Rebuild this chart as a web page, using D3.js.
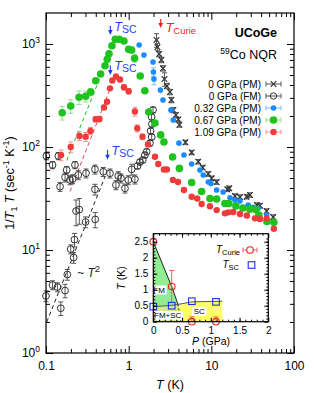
<!DOCTYPE html>
<html>
<head>
<meta charset="utf-8">
<script src="https://cdn.jsdelivr.net/npm/d3@7"></script>
<style>
body{margin:0;background:#fff}
svg{display:block;font-family:"Liberation Sans",Arial,Helvetica,sans-serif}
</style>
</head>
<body>
<div id="chart"></div>
<script>
// each point: [T (K), 1/T1T (sec^-1 K^-1), relative error (0 = no bar)]
const pm0 = [[2.17,1094,0.15],[2.23,935,0.08],[2.34,800,0.06],[2.49,700,0.06],[2.60,581,0.06],[2.71,457,0.15],
  [2.90,391,0.06],[3.16,342,0.06],[3.29,286,0.06],[3.48,228,0.06],[3.73,205,0.05],[3.98,185,0.05],[4.11,164,0.05],
  [4.86,111,0.05],[5.78,88.5,0.05],[6.95,72,0.05],[7.85,63.2,0.05],[9.18,54.7,0.05],[10.1,49.7,0.05],[11.6,45.7,0.05],
  [15.6,38.8,0.05],[16.5,39.7,0.05],[19.3,33.4,0.05],[22.2,32.7,0.05],[26.7,32.9,0.05],[29.3,34.2,0.05],[35.6,27.3,0.05],
  [38.7,26.9,0.05],[46.6,23.9,0.05],[56.0,20.9,0.05]];
const fm0 = [[0.1,3.58,0.12],[0.120,4.57,0.1],[0.138,4.37,0.1],[0.151,2.72,0.15],[0.170,4.04,0.15],[0.181,5.78,0.12],
  [0.199,10.2,0.1],[0.216,8.45,0.12],[0.221,12.6,0.15],[0.231,23.9,0.28],[0.253,24.7,0.28],[0.301,18.7,0.12],
  [0.394,19.8,0.17],[0.391,38.8,0.12],
  [0.101,81.8,0.08],[0.120,66.9,0.08],[0.141,81.8,0.08],[0.148,41.2,0.1],[0.170,50.8,0.1],[0.178,59.8,0.08],
  [0.195,47.8,0.1],[0.210,48.9,0.1],[0.224,66.9,0.08],[0.246,53.5,0.1],[0.305,55.6,0.1],[0.391,60.7,0.1],
  [0.493,57.5,0.1],[0.594,55.6,0.1],[0.702,42.8,0.1],[0.748,52.3,0.1],[0.807,49.7,0.1],[0.902,39.7,0.1],
  [0.989,47.8,0.1],[1.087,60.7,0.12],[1.19,48.6,0.1],[1.28,65.4,0.06],[1.37,71.5,0.06],[1.48,74.8,0.06],
  [1.57,83.6,0.06],[1.65,90.0,0.06],[1.81,109,0.06],[1.90,125,0.06],[1.84,143,0.06],[1.91,167,0.06],
  [1.89,196,0.06],[1.97,229,0.06]];
const p032 = [[1.34,978,0],[1.53,782,0],[1.97,668,0],[1.99,535,0.1],[2.02,457,0.12],[2.42,357,0],[2.60,286,0],
  [3.25,228,0],[3.46,183,0],[4.06,109,0],[4.66,83.6,0],[5.78,68.4,0],[7.28,59.8,0],[7.98,53.5,0],[9.18,45.7,0],
  [9.89,44.2,0],[11.6,38.3,0],[13.9,36.6,0],[16.8,32.2,0],[19.3,30.6,0],[22.2,29.9,0],[27.9,27.3,0],[32.1,26.0,0],
  [36.9,25.4,0],[46.6,21.9,0],[56.0,18.7,0]];
const p067 = [[0.157,215,0.15],[0.199,250,0.15],[0.251,304,0.15],[0.302,311,0.12],[0.347,342,0.08],[0.399,440,0],
  [0.458,511,0],[0.517,615,0],[0.551,710,0],[0.578,805,0],[0.628,962,0],[0.689,1111,0],[0.769,1111,0],[0.877,1069,0],
  [1.0,887,0.06],[1.087,875,0.06],[1.18,726,0.08],[1.38,489,0],[1.57,352,0],[1.75,219,0],[2.08,171,0],[2.44,131,0],
  [2.67,112,0],[3.40,80,0],[4.11,62,0],[5.78,45.2,0],[7.63,37.0,0],[9.62,31.6,0],[11.6,31.3,0],[14.6,28.3,0],
  [16.3,28.3,0],[19.8,26.7,0],[24.1,25.6,0],[29.3,24.8,0],[34.6,24.7,0],[37.6,21.9,0],[47.0,18.9,0],[57.1,18.6,0]];
const p109 = [[0.152,83.6,0.12],[0.199,100,0.12],[0.254,128,0.1],[0.302,126,0.1],[0.345,143,0.08],[0.399,186,0.06],
  [0.443,187,0.06],[0.503,242,0],[0.547,275,0],[0.594,371,0],[0.634,442,0],[0.702,483,0],[0.785,452,0.05],
  [0.877,380,0.06],[1.0,348,0.06],[1.19,221,0.1],[1.27,152,0.08],[1.47,126,0.06],[1.71,106,0],[2.08,80.5,0],
  [2.28,68.4,0],[2.67,60.5,0],[2.90,60.5,0],[3.43,47.8,0],[3.95,45.7,0],[4.66,38.3,0],[5.78,32.9,0],[6.75,31.6,0],
  [7.63,28.0,0],[9.62,26.6,0],[11.6,24.4,0],[14.6,22.7,0],[16.0,23.2,0],[18.4,23.4,0],[22.2,22.4,0],[26.9,21.6,0],
  [33.7,20.3,0],[38.7,20.0,0],[46.6,20.3,0],[57.1,16.1,0]];

// ~T^2 guide lines (end points)
const fitBlack = [[0.102,2.0],[0.52,52]];
const fitRed = [[0.195,37],[0.6,370]];
const fitGreen = [[0.178,74],[0.45,470]];

// arrows: [T, tip value, tail value]
const tscArrows = [[0.6,1223,1500],[0.6,500,620],[0.555,75,94]];
const curieArrow = [2.44,1430,1750];

const xTicks = [0.1,1,10,100];
const yTicks = [1,10,100,1000];
const legendNames = ["0 GPa (PM)","0 GPa (FM)","0.32 GPa (PM)","0.67 GPa (PM)","1.09 GPa (PM)"];

// inset phase diagram: P (GPa), T (K)
const tCurie = [[0,2.5,0],[0.32,1.1,0.5],[0.67,0,0.15],[1.09,0,0.15]];
const tSC = [[0,0.47],[0.32,0.5],[0.67,0.64],[1.09,0.62]];
const fmLine = [[0,2.5],[0.32,1.1],[0.43,0.54]];
const fmDash = [[0.43,0.54],[0.48,0]];
const scLine = [[0,0.47],[0.32,0.51],[0.43,0.54],[0.67,0.62],[1.2,0.64]];
const insetXTicks = [0,0.5,1,1.5,2];
const insetYTicks = [0,0.5,1,1.5,2,2.5];

const W = 314, H = 393;
const svg = d3.select("#chart").append("svg").attr("width", W).attr("height", H);

const x = d3.scaleLog().domain([0.1,100]).range([46,294]);
const y = d3.scaleLog().domain([1,2000]).range([353,13]);

function minorLog(lo, hi){
  let out=[];
  for(let k=Math.floor(Math.log10(lo)); k<=Math.ceil(Math.log10(hi)); k++)
    for(let m=2;m<10;m++){ let v=m*Math.pow(10,k); if(v>lo && v<hi) out.push(v); }
  return out;
}

function errBars(data, color){
  let g = svg.append("g").attr("stroke", color).attr("stroke-width", 1);
  data.filter(d=>d[2]>0).forEach(d=>{
    let px=x(d[0]), y1=y(d[1]*(1-d[2])), y2=y(d[1]*(1+d[2]));
    g.append("line").attr("x1",px).attr("x2",px).attr("y1",y1).attr("y2",y2);
    g.append("line").attr("x1",px-2.5).attr("x2",px+2.5).attr("y1",y1).attr("y2",y1);
    g.append("line").attr("x1",px-2.5).attr("x2",px+2.5).attr("y1",y2).attr("y2",y2);
  });
}

// dashed guides
const line = d3.line().x(d=>x(d[0])).y(d=>y(d[1]));
[[fitGreen,"#22bb22"],[fitRed,"#ee4444"],[fitBlack,"#222"]].forEach(f=>{
  svg.append("path").attr("d", line(f[0])).attr("fill","none").attr("stroke",f[1])
    .attr("stroke-width",1).attr("stroke-dasharray","4,3");
});

// 0 GPa PM: crosses
errBars(pm0, "#555");
svg.append("g").selectAll("path").data(pm0).enter().append("path")
  .attr("d","M-2.8,-2.8L2.8,2.8M-2.8,2.8L2.8,-2.8")
  .attr("transform",d=>`translate(${x(d[0])},${y(d[1])})`)
  .attr("stroke","#333").attr("stroke-width",1.2).attr("fill","none");

// 0 GPa FM: open circles
errBars(fm0, "#555");
svg.append("g").selectAll("circle").data(fm0).enter().append("circle")
  .attr("cx",d=>x(d[0])).attr("cy",d=>y(d[1])).attr("r",3.4)
  .attr("fill","none").attr("stroke","#333").attr("stroke-width",1);

function filled(data, color, barColor, r){
  errBars(data, barColor);
  svg.append("g").selectAll("circle").data(data).enter().append("circle")
    .attr("cx",d=>x(d[0])).attr("cy",d=>y(d[1])).attr("r",r).attr("fill",color);
}
filled(p032, "#1a8cff", "#7fbfff", 2.8);
filled(p067, "#1ec31e", "#8ee08e", 3.8);
filled(p109, "#ee3b3b", "#f59090", 3.2);

// arrows
function arrow(T, tip, tail, color){
  let px=x(T), yt=y(tip), ys=y(tail);
  svg.append("line").attr("x1",px).attr("x2",px).attr("y1",ys).attr("y2",yt-4)
    .attr("stroke",color).attr("stroke-width",1.2);
  svg.append("path").attr("d",`M${px-2.3},${yt-5}L${px+2.3},${yt-5}L${px},${yt}Z`).attr("fill",color);
}
tscArrows.forEach(a=>{
  arrow(a[0],a[1],a[2],"#1f3fff");
  let t = svg.append("text").attr("x",x(a[0])+4).attr("y",y(a[2])+5).attr("fill","#1f3fff").attr("font-size","12.5px");
  t.append("tspan").attr("font-style","italic").text("T");
  t.append("tspan").attr("font-size","10.5px").attr("dy","2").text("SC");
});
arrow(curieArrow[0],curieArrow[1],curieArrow[2],"#ee2222");
{
  let t = svg.append("text").attr("x",x(curieArrow[0])+5).attr("y",y(curieArrow[2])+13).attr("fill","#ee2222").attr("font-size","12.5px");
  t.append("tspan").attr("font-style","italic").text("T");
  t.append("tspan").attr("font-size","9.5px").attr("dy","2").text("Curie");
}

// ~T^2
{
  let t = svg.append("text").attr("x",x(0.238)).attr("y",y(5.5)).attr("font-size","12px").attr("fill","#222");
  t.append("tspan").text("~ ");
  t.append("tspan").attr("font-style","italic").text("T");
  t.append("tspan").attr("font-size","9.5px").attr("dy","-5").text("2");
}

// main axes
function strip(g){ g.select(".domain").remove(); g.attr("font-family",null); }
svg.append("g").attr("transform","translate(0,353)")
  .call(d3.axisBottom(x).tickValues(xTicks).tickSize(-7).tickPadding(8).tickFormat(d3.format("~g")))
  .attr("font-size","12px").call(strip);
svg.append("g").attr("transform","translate(0,353)")
  .call(d3.axisBottom(x).tickValues(minorLog(0.1,100)).tickSize(-4).tickFormat("")).call(strip);
svg.append("g").attr("transform","translate(0,13)")
  .call(d3.axisTop(x).tickValues(xTicks).tickSize(-7).tickFormat("")).call(strip);
svg.append("g").attr("transform","translate(0,13)")
  .call(d3.axisTop(x).tickValues(minorLog(0.1,100)).tickSize(-4).tickFormat("")).call(strip);

const gyl = svg.append("g").attr("transform","translate(46,0)")
  .call(d3.axisLeft(y).tickValues(yTicks).tickSize(-7).tickPadding(6))
  .attr("font-size","12px").call(strip);
gyl.selectAll(".tick text").text(null).each(function(d){
  let t=d3.select(this);
  t.append("tspan").text("10");
  t.append("tspan").attr("font-size","8.5px").attr("dy","-5").text(Math.round(Math.log10(d)));
});
svg.append("g").attr("transform","translate(46,0)")
  .call(d3.axisLeft(y).tickValues(minorLog(1,2000)).tickSize(-4).tickFormat("")).call(strip);
svg.append("g").attr("transform","translate(294,0)")
  .call(d3.axisRight(y).tickValues(yTicks).tickSize(-7).tickFormat("")).call(strip);
svg.append("g").attr("transform","translate(294,0)")
  .call(d3.axisRight(y).tickValues(minorLog(1,2000)).tickSize(-4).tickFormat("")).call(strip);

svg.append("rect").attr("x",46).attr("y",13).attr("width",248).attr("height",340)
  .attr("fill","none").attr("stroke","#000").attr("stroke-width",1.2);

// axis titles
{
  let t = svg.append("text").attr("x",170).attr("y",389).attr("text-anchor","middle").attr("font-size","12.5px");
  t.append("tspan").attr("font-style","italic").text("T");
  t.append("tspan").text(" (K)");
  let yl = svg.append("text").attr("transform","translate(14,183) rotate(-90)").attr("text-anchor","middle").attr("font-size","12.5px");
  yl.append("tspan").text("1/");
  yl.append("tspan").attr("font-style","italic").text("T");
  yl.append("tspan").attr("font-size","9px").attr("dy","3").text("1");
  yl.append("tspan").attr("font-style","italic").attr("dy","-3").text(" T");
  yl.append("tspan").text(" (sec");
  yl.append("tspan").attr("font-size","9px").attr("dy","-5").text("-1");
  yl.append("tspan").attr("dy","5").text(" K");
  yl.append("tspan").attr("font-size","9px").attr("dy","-5").text("-1");
  yl.append("tspan").attr("dy","5").text(")");
}

// titles
svg.append("text").attr("x",277).attr("y",37).attr("text-anchor","end").attr("font-size","12.5px")
  .attr("font-weight","bold").text("UCoGe");
{
  let t = svg.append("text").attr("x",277).attr("y",59).attr("text-anchor","end").attr("font-size","12.5px");
  t.append("tspan").attr("font-size","8.5px").attr("dy","-5").text("59");
  t.append("tspan").attr("dy","5").text("Co NQR");
}

// legend
const legendColors = [["#333","#555"],["#333","#555"],["#1a8cff","#7fbfff"],["#1ec31e","#8ee08e"],["#ee3b3b","#f59090"]];
legendNames.forEach((name,i)=>{
  let ly = 84 + i*12;
  svg.append("text").attr("x",261).attr("y",ly).attr("dy","0.35em").attr("text-anchor","end")
    .attr("font-size","10px").text(name);
  let g = svg.append("g").attr("stroke",legendColors[i][1]).attr("stroke-width",1);
  g.append("line").attr("x1",266).attr("x2",281).attr("y1",ly).attr("y2",ly);
  g.append("line").attr("x1",266).attr("x2",266).attr("y1",ly-2.5).attr("y2",ly+2.5);
  g.append("line").attr("x1",281).attr("x2",281).attr("y1",ly-2.5).attr("y2",ly+2.5);
  if(i==0) svg.append("path").attr("d",`M${273.5-2.8},${ly-2.8}L${273.5+2.8},${ly+2.8}M${273.5-2.8},${ly+2.8}L${273.5+2.8},${ly-2.8}`)
    .attr("stroke","#333").attr("stroke-width",1.2);
  else if(i==1) svg.append("circle").attr("cx",273.5).attr("cy",ly).attr("r",3.2).attr("fill","none").attr("stroke","#333");
  else svg.append("circle").attr("cx",273.5).attr("cy",ly).attr("r",[0,0,2.8,3.8,3.2][i]).attr("fill",legendColors[i][0]);
});

// ---------- inset ----------
const ix = d3.scaleLinear().domain([0,2]).range([153.3,268.3]);
const iy = d3.scaleLinear().domain([0,2.75]).range([321.7,233.7]);
const ins = svg.append("g");
ins.append("rect").attr("x",153.3).attr("y",233.7).attr("width",115).attr("height",88).attr("fill","#fff");
svg.append("clipPath").attr("id","iclip").append("rect").attr("x",153.3).attr("y",233.7).attr("width",115).attr("height",88);
const iline = d3.line().x(d=>ix(d[0])).y(d=>iy(d[1]));
const scEnd = scLine.findIndex(d=>d[0]===fmLine[fmLine.length-1][0]);
const fmPoly = fmLine.concat(scLine.slice(0,scEnd).reverse());
const fmscPoly = [[0,0],fmDash[1]].concat([fmDash[0]]).concat(scLine.slice(0,scEnd).reverse());
const scPoly = [fmDash[1],[scLine[scLine.length-1][0],0]].concat(scLine.slice(scEnd).reverse()).concat([fmDash[1]]);
ins.append("path").attr("d",iline(fmPoly)+"Z").attr("fill","#90ee90");
ins.append("path").attr("d",iline(fmscPoly)+"Z").attr("fill","#d2ea86");
ins.append("path").attr("d",iline(scPoly)+"Z").attr("fill","#ffff66");
ins.append("path").attr("d",iline(fmLine)).attr("fill","none").attr("stroke","#222").attr("stroke-width",1);
ins.append("path").attr("d",iline(fmDash)).attr("fill","none").attr("stroke","#222").attr("stroke-width",1).attr("stroke-dasharray","2,2");
ins.append("path").attr("d",iline(scLine)).attr("fill","none").attr("stroke","#555").attr("stroke-width",1);

function labelBox(txt, P, T){
  let t = ins.append("text").attr("x",ix(P)).attr("y",iy(T)).attr("dy","0.35em").attr("text-anchor","middle")
    .attr("font-size","8px").text(txt);
  let b = t.node().getBBox();
  ins.insert("rect","text:last-child").attr("x",b.x-1.5).attr("y",b.y).attr("width",b.width+3).attr("height",b.height).attr("fill","#fff");
  t.raise();
}
labelBox("FM",0.1,1.0);
labelBox("FM+SC",0.25,0.2);
labelBox("SC",0.8,0.33);

// Tcurie points
const ig = ins.append("g").attr("clip-path","url(#iclip)");
tCurie.forEach(d=>{
  if(d[2]>0){
    let px=ix(d[0]), y1=iy(d[1]-d[2]), y2=iy(d[1]+d[2]);
    ig.append("line").attr("x1",px).attr("x2",px).attr("y1",y1).attr("y2",y2).attr("stroke","#f06060");
    [y1,y2].forEach(yy=>ig.append("line").attr("x1",px-2.5).attr("x2",px+2.5).attr("y1",yy).attr("y2",yy).attr("stroke","#f06060"));
  }
});
ins.selectAll("circle.tc").data(tCurie).enter().append("circle").attr("class","tc")
  .attr("cx",d=>ix(d[0])).attr("cy",d=>iy(d[1])).attr("r",3.3).attr("fill","none").attr("stroke","#ee2222").attr("stroke-width",1.1);
ins.selectAll("rect.sc").data(tSC).enter().append("rect").attr("class","sc")
  .attr("x",d=>ix(d[0])-3.3).attr("y",d=>iy(d[1])-3.3).attr("width",6.6).attr("height",6.6)
  .attr("fill","none").attr("stroke","#1f2fee").attr("stroke-width",1.1);

// inset axes
ins.append("g").attr("transform","translate(0,321.7)")
  .call(d3.axisBottom(ix).tickValues(insetXTicks).tickSize(-4).tickPadding(5).tickFormat(d3.format("~g")))
  .attr("font-size","10px").call(strip);
ins.append("g").attr("transform","translate(0,321.7)")
  .call(d3.axisBottom(ix).tickValues(d3.range(1,20).map(i=>i/10)).tickSize(-2).tickFormat("")).call(strip);
ins.append("g").attr("transform","translate(0,233.7)")
  .call(d3.axisTop(ix).tickValues(insetXTicks).tickSize(-4).tickFormat("")).call(strip);
ins.append("g").attr("transform","translate(0,233.7)")
  .call(d3.axisTop(ix).tickValues(d3.range(1,20).map(i=>i/10)).tickSize(-2).tickFormat("")).call(strip);
ins.append("g").attr("transform","translate(153.3,0)")
  .call(d3.axisLeft(iy).tickValues(insetYTicks).tickSize(-4).tickPadding(5).tickFormat(d3.format("~g")))
  .attr("font-size","10px").call(strip);
ins.append("g").attr("transform","translate(153.3,0)")
  .call(d3.axisLeft(iy).tickValues(d3.range(1,27).map(i=>i/10)).tickSize(-2).tickFormat("")).call(strip);
ins.append("g").attr("transform","translate(268.3,0)")
  .call(d3.axisRight(iy).tickValues(insetYTicks).tickSize(-4).tickFormat("")).call(strip);
ins.append("g").attr("transform","translate(268.3,0)")
  .call(d3.axisRight(iy).tickValues(d3.range(1,27).map(i=>i/10)).tickSize(-2).tickFormat("")).call(strip);
ins.append("rect").attr("x",153.3).attr("y",233.7).attr("width",115).attr("height",88)
  .attr("fill","none").attr("stroke","#000").attr("stroke-width",1.2);

{
  let t = ins.append("text").attr("x",211).attr("y",345).attr("text-anchor","middle").attr("font-size","10.5px");
  t.append("tspan").attr("font-style","italic").text("P");
  t.append("tspan").text(" (GPa)");
  let t2 = ins.append("text").attr("transform","translate(125,278) rotate(-90)").attr("text-anchor","middle").attr("font-size","10.5px");
  t2.append("tspan").attr("font-style","italic").text("T");
  t2.append("tspan").text(" (K)");
}
// inset legend
{
  let t = ins.append("text").attr("x",240).attr("y",253).attr("text-anchor","end").attr("font-size","10px");
  t.append("tspan").attr("font-style","italic").text("T");
  t.append("tspan").attr("font-size","7.5px").attr("dy","2").text("Curie");
  let g = ins.append("g").attr("stroke","#f06060");
  g.append("line").attr("x1",243).attr("x2",257).attr("y1",250).attr("y2",250);
  g.append("line").attr("x1",243).attr("x2",243).attr("y1",247.5).attr("y2",252.5);
  g.append("line").attr("x1",257).attr("x2",257).attr("y1",247.5).attr("y2",252.5);
  ins.append("circle").attr("cx",250).attr("cy",250).attr("r",3.3).attr("fill","#fff").attr("stroke","#ee2222").attr("stroke-width",1.1);
  let t2 = ins.append("text").attr("x",239).attr("y",268).attr("text-anchor","end").attr("font-size","10px");
  t2.append("tspan").attr("font-style","italic").text("T");
  t2.append("tspan").attr("font-size","7.5px").attr("dy","2").text("SC");
  ins.append("rect").attr("x",248.2).attr("y",261.7).attr("width",6.6).attr("height",6.6)
    .attr("fill","none").attr("stroke","#1f2fee").attr("stroke-width",1.1);
}
</script>
</body>
</html>
